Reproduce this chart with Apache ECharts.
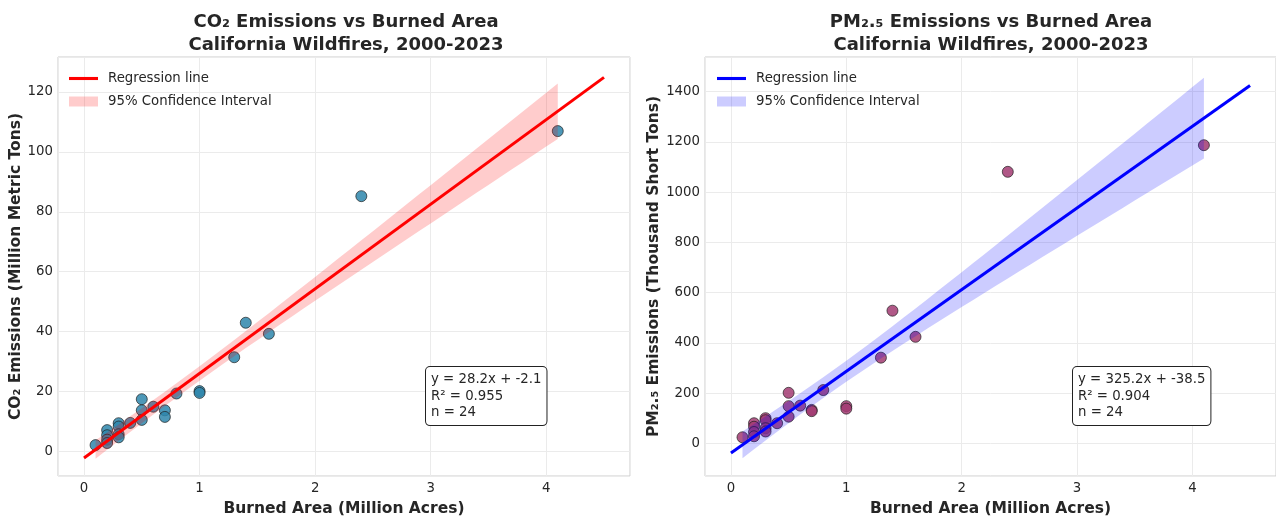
<!DOCTYPE html>
<html>
<head>
<meta charset="utf-8">
<script src="https://cdn.jsdelivr.net/npm/echarts@6/dist/echarts.min.js"></script>
<style>
  html, body { margin: 0; padding: 0; background: #fff; }
  #chart { width: 1276px; height: 519px; }
</style>
</head>
<body>
<div id="chart"></div>
<script>
  // burned area per year (million acres), 2000-2023
  const burnedArea = [0.1, 0.2, 0.2, 0.2, 0.2, 0.3, 0.3, 0.3, 0.3, 0.4, 0.5, 0.5, 0.5, 0.6, 0.7, 0.7, 0.8, 1.0, 1.0, 1.3, 1.4, 1.6, 2.4, 4.1];
  // CO2 emissions (million metric tons)
  const co2 = [2.2, 7.2, 5.5, 4.0, 2.9, 9.5, 8.4, 5.8, 4.8, 9.6, 17.5, 13.8, 10.6, 15.0, 13.8, 11.6, 19.4, 20.2, 19.6, 31.5, 43.0, 39.3, 85.2, 106.9];
  // PM2.5 emissions (thousand short tons)
  const pm25 = [24, 80, 66, 45, 28, 100, 92, 60, 47, 80, 201, 148, 106, 150, 133, 128, 212, 148, 138, 341, 528, 424, 1081, 1187];

  // fitted lines as printed in the boxes
  const co2Fit = { slope: 28.2, intercept: -2.1, r2: '0.955' };
  const pmFit = { slope: 325.2, intercept: -38.5, r2: '0.904' };
  const fitRange = [0, 4.5];

  const font = '"DejaVu Sans", "Noto Sans", sans-serif';
  const textColor = '#262626';

  // 95% confidence band of the fitted line (t for 22 df)
  function ciBand(xs, ys, fit) {
    const n = xs.length, t = 2.074;
    const xbar = xs.reduce((a, b) => a + b, 0) / n;
    let sxx = 0, sse = 0;
    xs.forEach((x, i) => {
      sxx += (x - xbar) * (x - xbar);
      const r = ys[i] - (fit.slope * x + fit.intercept);
      sse += r * r;
    });
    const s = Math.sqrt(sse / (n - 2));
    const lo = Math.min(...xs), hi = Math.max(...xs);
    const out = [];
    for (let k = 0; k <= 40; k++) {
      const x = lo + (hi - lo) * k / 40;
      const yh = fit.slope * x + fit.intercept;
      const h = t * s * Math.sqrt(1 / n + (x - xbar) * (x - xbar) / sxx);
      out.push([x, yh - h, yh + h]);
    }
    return out;
  }

  function bandRender(band, color) {
    return function (params, api) {
      if (params.dataIndex !== 0) return;
      const upper = band.map(d => api.coord([d[0], d[2]]));
      const lower = band.map(d => api.coord([d[0], d[1]])).reverse();
      return { type: 'polygon', shape: { points: upper.concat(lower) }, style: { fill: color } };
    };
  }

  const co2Band = ciBand(burnedArea, co2, co2Fit);
  const pmBand = ciBand(burnedArea, pm25, pmFit);

  const isStep = step => v => (Math.abs(v / step - Math.round(v / step)) < 1e-6 ? String(Math.round(v)) : '');

  function xAxisFor(i) {
    return {
      gridIndex: i, type: 'value', min: -0.225, max: 4.725, splitNumber: 5,
      axisLine: { show: false }, axisTick: { show: false },
      axisLabel: { margin: 6, color: textColor, fontSize: 13.3, fontFamily: font, formatter: isStep(1), showMinLabel: false, showMaxLabel: false },
      splitLine: { lineStyle: { color: '#ebebeb', width: 1 } },
      name: 'Burned Area (Million Acres)', nameLocation: 'middle', nameGap: 25,
      nameTextStyle: { fontSize: 15.5, fontWeight: 'bold', color: textColor, fontFamily: font }
    };
  }

  function yAxisFor(i, min, max, split, step, name, gap) {
    return {
      gridIndex: i, type: 'value', min: min, max: max, splitNumber: split,
      axisLine: { show: false }, axisTick: { show: false },
      axisLabel: { margin: 5, color: textColor, fontSize: 13.3, fontFamily: font, formatter: isStep(step), showMinLabel: false, showMaxLabel: false },
      splitLine: { lineStyle: { color: '#ebebeb', width: 1 } },
      name: name, nameLocation: 'middle', nameGap: gap,
      nameTextStyle: { fontSize: 15.5, fontWeight: 'bold', color: textColor, fontFamily: font }
    };
  }

  const legendNames = { reg_co2: 'Regression line', ci_co2: '95% Confidence Interval', reg_pm: 'Regression line', ci_pm: '95% Confidence Interval' };

  function legendFor(left, reg, ci) {
    return {
      left: left, top: 72, orient: 'vertical', padding: 0, itemGap: 10,
      itemWidth: 29, itemHeight: 10,
      data: [{ name: reg, icon: 'path://M0,0H30V3.2H0Z' }, { name: ci, icon: 'rect' }],
      formatter: n => legendNames[n],
      textStyle: { fontSize: 13.3, color: textColor, fontFamily: font, padding: [0, 0, 0, 5] }
    };
  }

  function statBox(x, fit) {
    return {
      type: 'text', x: x, y: 367, z: 100,
      style: {
        text: 'y = ' + fit.slope.toFixed(1) + 'x + ' + fit.intercept.toFixed(1) + '\nR² = ' + fit.r2 + '\nn = ' + burnedArea.length,
        font: '13.3px ' + font, fill: textColor, lineHeight: 16.7,
        backgroundColor: '#fff', borderColor: '#222', borderWidth: 1, borderRadius: 4,
        padding: [4, 5, 4, 5], textVerticalAlign: 'top'
      }
    };
  }

  const chart = echarts.init(document.getElementById('chart'));

  const option = {
    animation: false,
    backgroundColor: '#fff',
    grid: [
      { left: 58, top: 57, width: 572, height: 419, show: true, borderColor: '#cccccc', borderWidth: 1, backgroundColor: 'transparent', containLabel: false, outerBoundsMode: 'none' },
      { left: 705, top: 57, width: 571, height: 419, show: true, borderColor: '#cccccc', borderWidth: 1, backgroundColor: 'transparent', containLabel: false, outerBoundsMode: 'none' }
    ],
    xAxis: [xAxisFor(0), xAxisFor(1)],
    yAxis: [
      yAxisFor(0, -8.1, 131.6, 7, 20, 'CO₂ Emissions (Million Metric Tons)', 28),
      yAxisFor(1, -130.2, 1538.2, 8, 200, 'PM₂.₅ Emissions (Thousand Short Tons)', 38)
    ],
    legend: [legendFor(69, 'reg_co2', 'ci_co2'), legendFor(717, 'reg_pm', 'ci_pm')],
    graphic: [
      { type: 'text', x: 346, y: 11, style: { text: 'CO₂ Emissions vs Burned Area\nCalifornia Wildfires, 2000-2023', font: 'bold 18px ' + font, fill: textColor, lineHeight: 23, textAlign: 'center', textVerticalAlign: 'top' } },
      { type: 'text', x: 991, y: 11, style: { text: 'PM₂.₅ Emissions vs Burned Area\nCalifornia Wildfires, 2000-2023', font: 'bold 18px ' + font, fill: textColor, lineHeight: 23, textAlign: 'center', textVerticalAlign: 'top' } },
      statBox(426, co2Fit),
      statBox(1073, pmFit)
    ],
    series: [
      {
        name: 'co2_points', type: 'scatter', xAxisIndex: 0, yAxisIndex: 0, z: 2,
        data: burnedArea.map((x, i) => [x, co2[i]]),
        symbolSize: 11,
        itemStyle: { color: '#2E86AB', opacity: 0.85, borderColor: '#1a1a1a', borderWidth: 0.8 }
      },
      {
        name: 'ci_co2', type: 'custom', xAxisIndex: 0, yAxisIndex: 0, z: 3,
        data: co2Band, encode: { x: 0, y: [1, 2] },
        itemStyle: { color: 'rgba(255,0,0,0.2)' },
        renderItem: bandRender(co2Band, 'rgba(255,0,0,0.2)')
      },
      {
        name: 'reg_co2', type: 'line', xAxisIndex: 0, yAxisIndex: 0, z: 4,
        data: fitRange.map(x => [x, co2Fit.slope * x + co2Fit.intercept]),
        symbol: 'none', lineStyle: { color: '#ff0000', width: 3 }, itemStyle: { color: '#ff0000' }
      },
      {
        name: 'pm_points', type: 'scatter', xAxisIndex: 1, yAxisIndex: 1, z: 2,
        data: burnedArea.map((x, i) => [x, pm25[i]]),
        symbolSize: 11,
        itemStyle: { color: '#A23B72', opacity: 0.85, borderColor: '#1a1a1a', borderWidth: 0.8 }
      },
      {
        name: 'ci_pm', type: 'custom', xAxisIndex: 1, yAxisIndex: 1, z: 3,
        data: pmBand, encode: { x: 0, y: [1, 2] },
        itemStyle: { color: 'rgba(0,0,255,0.2)' },
        renderItem: bandRender(pmBand, 'rgba(0,0,255,0.2)')
      },
      {
        name: 'reg_pm', type: 'line', xAxisIndex: 1, yAxisIndex: 1, z: 4,
        data: fitRange.map(x => [x, pmFit.slope * x + pmFit.intercept]),
        symbol: 'none', lineStyle: { color: '#0000ff', width: 3 }, itemStyle: { color: '#0000ff' }
      }
    ]
  };

  chart.setOption(option);
</script>
</body>
</html>
